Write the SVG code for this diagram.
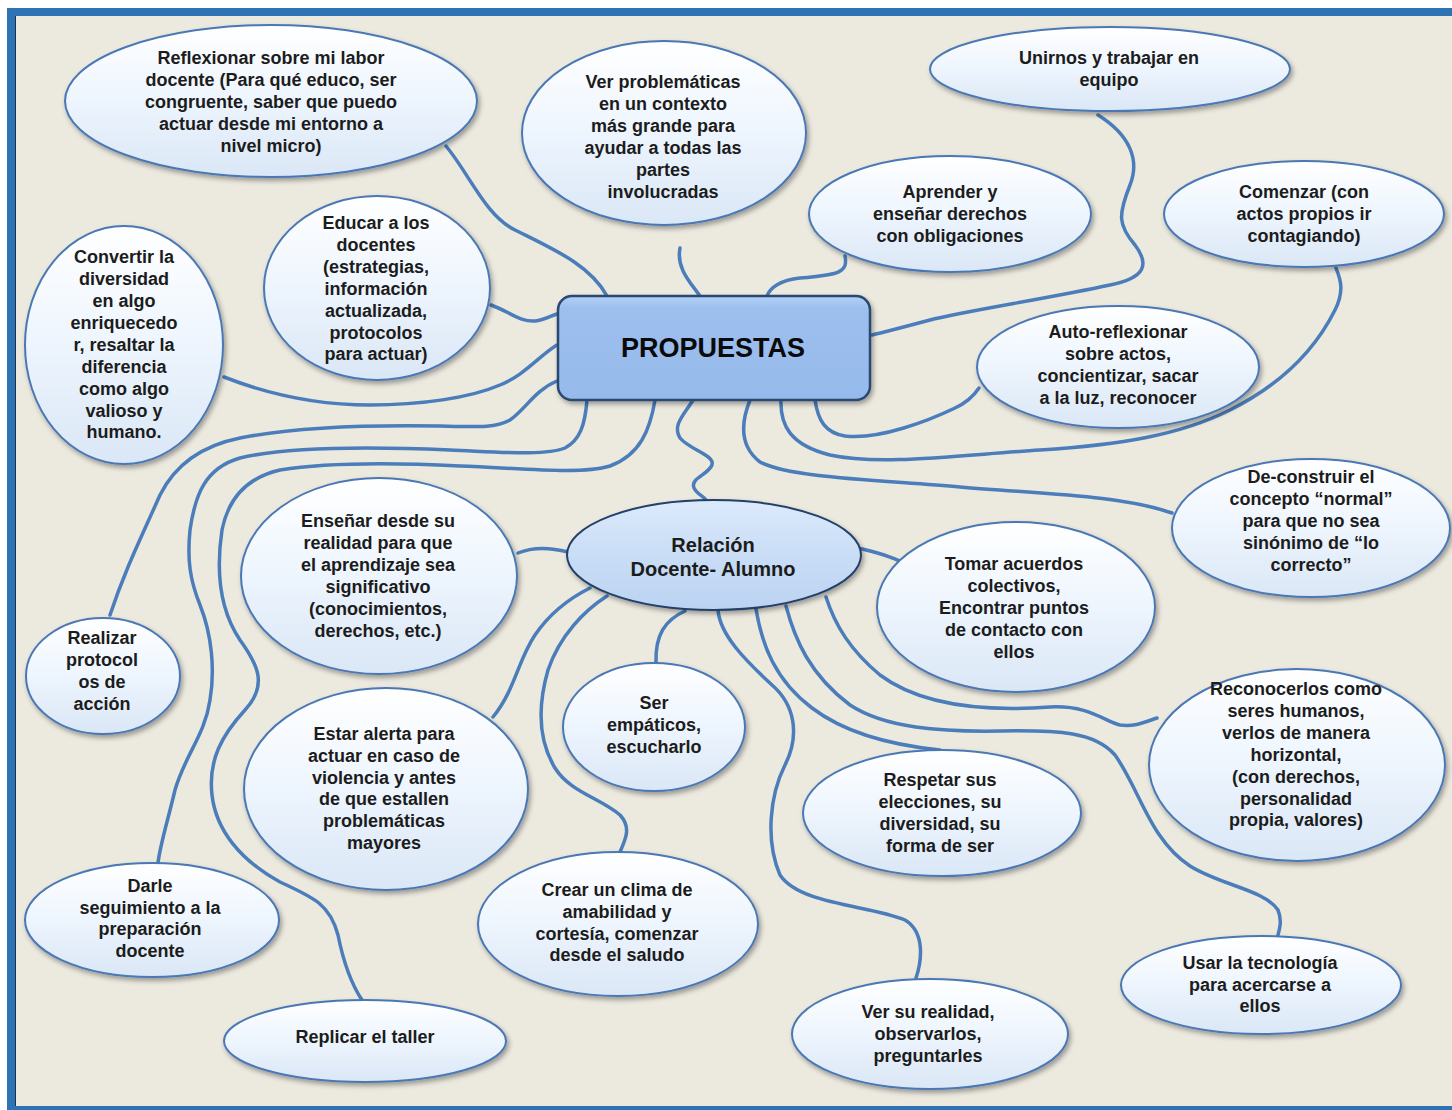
<svg xmlns="http://www.w3.org/2000/svg" width="1452" height="1110" viewBox="0 0 1452 1110">
<defs>
<linearGradient id="gE" x1="0" y1="0" x2="0" y2="1">
<stop offset="0" stop-color="#FFFFFF"/>
<stop offset="0.45" stop-color="#EFF6FE"/>
<stop offset="1" stop-color="#DAE7F6"/>
</linearGradient>
<linearGradient id="gR" x1="0" y1="0" x2="0" y2="1">
<stop offset="0" stop-color="#B3D0F5"/>
<stop offset="0.12" stop-color="#9CBFEE"/>
<stop offset="1" stop-color="#96BAEB"/>
</linearGradient>
<linearGradient id="gC" x1="0" y1="0" x2="0" y2="1">
<stop offset="0" stop-color="#DCEAFB"/>
<stop offset="0.5" stop-color="#C9DDF6"/>
<stop offset="1" stop-color="#BBD3F2"/>
</linearGradient>
<filter id="sh" x="-10%" y="-10%" width="125%" height="130%">
<feDropShadow dx="2" dy="3" stdDeviation="2.5" flood-color="#000" flood-opacity="0.35"/>
</filter>
<style>
.e{fill:url(#gE);stroke:#4A78B5;stroke-width:2;filter:url(#sh)}
.c path{fill:none;stroke:#4A7DBA;stroke-width:3.5;stroke-linecap:round}
text{font-family:"Liberation Sans",Arial,sans-serif;font-weight:bold;font-size:18px;fill:#1C1C1C;text-anchor:middle}
.big{font-size:27px;fill:#0A0A0A}
.mid{font-size:20px}
</style>
</defs>
<rect x="0" y="0" width="1452" height="1110" fill="#FFFFFF"/>
<rect x="11" y="12" width="1460" height="1098" fill="#ECE9DF" stroke="#2E74B5" stroke-width="8"/>
<line x1="15.5" y1="16" x2="15.5" y2="1106" stroke="#1F2F45" stroke-width="1"/>

<g id="connectors" class="c">
<path d="M446,146 C470,175 485,215 515,230 C555,250 590,265 607,296"/>
<path d="M680,248 C676,268 690,282 700,296"/>
<path d="M845,256 C848,272 840,275 800,278 C780,280 770,288 767,296"/>
<path d="M1098,115 C1130,135 1140,160 1130,185 C1118,215 1118,225 1135,245 C1150,265 1145,278 1110,285 C1050,298 960,312 930,320 C900,328 885,332 872,335"/>
<path d="M491,305 C510,312 520,322 535,321 C545,320 550,316 557,314"/>
<path d="M224,377 C270,395 320,405 370,405 C420,405 470,398 500,385 C525,375 540,355 557,345"/>
<path d="M557,381 C535,390 525,410 510,420 C495,428 480,427 440,426 C380,425 300,426 240,438 C200,446 175,465 160,495 C140,540 125,570 110,615"/>
<path d="M587,400 C585,425 580,440 565,448 C545,456 500,452 450,450 C380,447 290,446 240,458 C205,468 195,495 190,530 C187,560 190,580 200,605 C212,635 215,670 210,700 C205,735 185,755 175,790 C168,820 160,845 158,863"/>
<path d="M655,400 C650,430 640,455 610,466 C580,475 520,468 460,466 C400,463 330,462 280,470 C245,478 228,500 222,530 C216,570 220,610 240,640 C258,665 268,685 245,710 C222,735 208,760 212,795 C216,830 240,860 280,882 C315,898 330,905 338,935 C344,965 352,985 362,1000"/>
<path d="M693,400 C684,415 672,425 680,438 C690,450 715,455 712,465 C708,475 690,478 694,488 C697,494 703,496 706,500"/>
<path d="M750,400 C742,420 738,445 760,462 C790,478 880,480 960,487 C1040,494 1120,495 1172,513"/>
<path d="M781,400 C780,425 790,445 830,455 C880,466 960,455 1040,450 C1120,445 1180,435 1230,410 C1290,380 1320,340 1335,310 C1345,290 1340,278 1336,268"/>
<path d="M815,400 C818,420 825,433 845,436 C880,440 930,420 955,408 C968,402 975,394 979,388"/>
<path d="M518,553 C530,548 545,546 568,552"/>
<path d="M590,588 C570,598 550,613 535,635 C518,660 515,690 493,717"/>
<path d="M607,596 C585,610 560,635 548,670 C538,705 538,740 555,768 C570,792 600,798 620,815 C632,828 625,840 620,852"/>
<path d="M685,611 C665,620 655,635 656,663"/>
<path d="M718,610 C720,635 745,660 772,685 C795,705 800,735 785,765 C770,795 765,840 780,875 C800,905 870,905 905,920 C925,932 922,960 916,978"/>
<path d="M756,609 C762,645 775,680 812,708 C845,733 890,745 940,750"/>
<path d="M786,606 C795,640 810,675 850,705 C885,728 940,732 1000,731 C1060,730 1095,732 1115,755 C1140,790 1150,840 1190,866 C1220,885 1265,890 1278,910 C1282,920 1280,928 1278,935"/>
<path d="M826,597 C835,625 850,650 880,675 C920,705 980,712 1050,707 C1090,705 1105,722 1120,725 C1135,727 1145,722 1157,718"/>
<path d="M858,548 C875,552 890,556 902,562"/>
</g>

<g id="n-reflexionar"><ellipse class="e" cx="271" cy="101" rx="206" ry="76"/>
<text x="271" y="64">Reflexionar sobre mi labor</text><text x="271" y="86">docente (Para qué educo, ser</text><text x="271" y="108">congruente, saber que puedo</text><text x="271" y="130">actuar desde mi entorno a</text><text x="271" y="152">nivel micro)</text></g>

<g id="n-ver-problematicas"><ellipse class="e" cx="664" cy="133" rx="142" ry="92"/>
<text x="663" y="88">Ver problemáticas</text><text x="663" y="110">en un contexto</text><text x="663" y="132">más grande para</text><text x="663" y="154">ayudar a todas las</text><text x="663" y="176">partes</text><text x="663" y="198">involucradas</text></g>

<g id="n-unirnos"><ellipse class="e" cx="1110" cy="69" rx="180" ry="42"/>
<text x="1109" y="64">Unirnos y trabajar en</text><text x="1109" y="86">equipo</text></g>

<g id="n-aprender"><ellipse class="e" cx="950" cy="214" rx="141" ry="58"/>
<text x="950" y="198">Aprender y</text><text x="950" y="220">enseñar derechos</text><text x="950" y="242">con obligaciones</text></g>

<g id="n-comenzar"><ellipse class="e" cx="1304" cy="214" rx="140" ry="53"/>
<text x="1304" y="198">Comenzar (con</text><text x="1304" y="220">actos propios ir</text><text x="1304" y="242">contagiando)</text></g>

<g id="n-educar"><ellipse class="e" cx="377" cy="288" rx="113" ry="92"/>
<text x="376" y="229">Educar a los</text><text x="376" y="251">docentes</text><text x="376" y="273">(estrategias,</text><text x="376" y="295">información</text><text x="376" y="317">actualizada,</text><text x="376" y="339">protocolos</text><text x="376" y="360">para actuar)</text></g>

<g id="n-convertir"><ellipse class="e" cx="124" cy="345" rx="99" ry="119"/>
<text x="124" y="263">Convertir la</text><text x="124" y="285">diversidad</text><text x="124" y="307">en algo</text><text x="124" y="329">enriquecedo</text><text x="124" y="351">r, resaltar la</text><text x="124" y="373">diferencia</text><text x="124" y="395">como algo</text><text x="124" y="417">valioso y</text><text x="124" y="438">humano.</text></g>

<g id="n-propuestas"><rect x="558" y="296" width="312" height="104" rx="14" fill="url(#gR)" stroke="#2C486F" stroke-width="2.5" filter="url(#sh)"/>
<text class="big" x="713" y="357">PROPUESTAS</text></g>

<g id="n-auto"><ellipse class="e" cx="1118" cy="367" rx="141" ry="61"/>
<text x="1118" y="338">Auto-reflexionar</text><text x="1118" y="360">sobre actos,</text><text x="1118" y="382">concientizar, sacar</text><text x="1118" y="404">a la luz, reconocer</text></g>

<g id="n-deconstruir"><ellipse class="e" cx="1311" cy="528" rx="139" ry="69"/>
<text x="1311" y="483">De-construir el</text><text x="1311" y="505">concepto “normal”</text><text x="1311" y="527">para que no sea</text><text x="1311" y="549">sinónimo de “lo</text><text x="1311" y="571">correcto”</text></g>

<g id="n-relacion"><ellipse cx="714" cy="555" rx="147" ry="55" fill="url(#gC)" stroke="#223F68" stroke-width="2" filter="url(#sh)"/>
<text class="mid" x="713" y="552">Relación</text><text class="mid" x="713" y="576">Docente- Alumno</text></g>

<g id="n-ensenar"><ellipse class="e" cx="379" cy="576" rx="138" ry="98"/>
<text x="378" y="527">Enseñar desde su</text><text x="378" y="549">realidad para que</text><text x="378" y="571">el aprendizaje sea</text><text x="378" y="593">significativo</text><text x="378" y="615">(conocimientos,</text><text x="378" y="637">derechos, etc.)</text></g>

<g id="n-tomar"><ellipse class="e" cx="1016" cy="607" rx="139" ry="85"/>
<text x="1014" y="570">Tomar acuerdos</text><text x="1014" y="592">colectivos,</text><text x="1014" y="614">Encontrar puntos</text><text x="1014" y="636">de contacto con</text><text x="1014" y="658">ellos</text></g>

<g id="n-realizar"><ellipse class="e" cx="103" cy="676" rx="77" ry="58"/>
<text x="102" y="644">Realizar</text><text x="102" y="666">protocol</text><text x="102" y="688">os de</text><text x="102" y="710">acción</text></g>

<g id="n-ser"><ellipse class="e" cx="654" cy="727" rx="91" ry="64"/>
<text x="654" y="709">Ser</text><text x="654" y="731">empáticos,</text><text x="654" y="753">escucharlo</text></g>

<g id="n-reconocerlos"><ellipse class="e" cx="1297" cy="765" rx="148" ry="96"/>
<text x="1296" y="695">Reconocerlos como</text><text x="1296" y="717">seres humanos,</text><text x="1296" y="739">verlos de manera</text><text x="1296" y="761">horizontal,</text><text x="1296" y="783">(con derechos,</text><text x="1296" y="805">personalidad</text><text x="1296" y="826">propia, valores)</text></g>

<g id="n-estar"><ellipse class="e" cx="386" cy="789" rx="142" ry="101"/>
<text x="384" y="740">Estar alerta para</text><text x="384" y="762">actuar en caso de</text><text x="384" y="784">violencia y antes</text><text x="384" y="805">de que estallen</text><text x="384" y="827">problemáticas</text><text x="384" y="849">mayores</text></g>

<g id="n-respetar"><ellipse class="e" cx="942" cy="813" rx="139" ry="63"/>
<text x="940" y="786">Respetar sus</text><text x="940" y="808">elecciones, su</text><text x="940" y="830">diversidad, su</text><text x="940" y="852">forma de ser</text></g>

<g id="n-darle"><ellipse class="e" cx="152" cy="920" rx="127" ry="57"/>
<text x="150" y="892">Darle</text><text x="150" y="914">seguimiento a la</text><text x="150" y="935">preparación</text><text x="150" y="957">docente</text></g>

<g id="n-crear"><ellipse class="e" cx="618" cy="924" rx="140" ry="72"/>
<text x="617" y="896">Crear un clima de</text><text x="617" y="918">amabilidad y</text><text x="617" y="940">cortesía, comenzar</text><text x="617" y="961">desde el saludo</text></g>

<g id="n-usar"><ellipse class="e" cx="1261" cy="985" rx="140" ry="49"/>
<text x="1260" y="969">Usar la tecnología</text><text x="1260" y="991">para acercarse a</text><text x="1260" y="1012">ellos</text></g>

<g id="n-replicar"><ellipse class="e" cx="365" cy="1041" rx="141" ry="41"/>
<text x="365" y="1043">Replicar el taller</text></g>

<g id="n-ver-realidad"><ellipse class="e" cx="930" cy="1034" rx="138" ry="55"/>
<text x="928" y="1018">Ver su realidad,</text><text x="928" y="1040">observarlos,</text><text x="928" y="1062">preguntarles</text></g>
</svg>
